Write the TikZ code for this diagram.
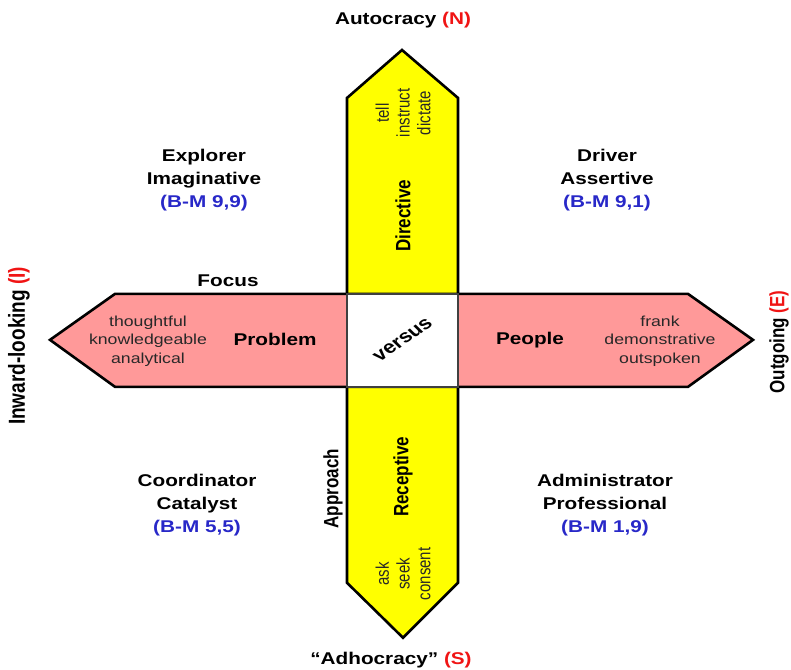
\documentclass[tikz,border=0pt]{standalone}
\usepackage{fontspec}
\setmainfont{Liberation Sans}
\definecolor{barYellow}{RGB}{255,255,0}
\definecolor{barPink}{RGB}{255,153,153}
\definecolor{axisRed}{RGB}{240,20,20}
\definecolor{bmBlue}{RGB}{40,40,200}
\definecolor{softInk}{RGB}{40,40,40}
\begin{document}
\begin{tikzpicture}[x=0.82pt, y=-1pt, xscale=1.22, transform shape,
  bar/.style={line width=2.6pt, line join=miter, draw=black},
  heading/.style={font=\bfseries\fontsize{17}{23}\selectfont, align=center, inner sep=0pt},
  traits/.style={font=\fontsize{14.5}{18.5}\selectfont, align=center, inner sep=0pt, text=softInk},
  verbs/.style={font=\fontsize{15}{17}\selectfont, align=center, inner sep=0pt, text=softInk, rotate=90},
  upright/.style={rotate=90}]
\useasboundingbox (0,0) rectangle (791,670);

% vertical bar: Directive / Receptive
\path[bar, fill=barYellow] (347,98) -- (402,50) -- (458,98) -- (458,583)
  -- (403,638) -- (347,583) -- cycle;
% horizontal bar: Problem / People
\path[bar, fill=barPink] (50,340) -- (115,294) -- (688,294) -- (753,340)
  -- (688,387) -- (115,387) -- cycle;
% centre square
\path[fill=white, draw=black!75, line width=1.5pt] (347,294) rectangle (458,387);

% compass labels
\node[heading] (north) at (403,20) {Autocracy \textcolor{axisRed}{(N)}};
\node[heading] (south) at (391,660) {“Adhocracy” \textcolor{axisRed}{(S)}};
\node[heading, upright, font=\bfseries\fontsize{19}{23}\selectfont] (west) at (19,346)
  {Inward-looking \textcolor{axisRed}{(I)}};
\node[heading, upright] (east) at (779,342) {Outgoing \textcolor{axisRed}{(E)}};

% quadrant styles
\node[heading] (explorer) at (204,180) {Explorer\\Imaginative\\\textcolor{bmBlue}{(B-M 9,9)}};
\node[heading] (driver) at (607,180) {Driver\\Assertive\\\textcolor{bmBlue}{(B-M 9,1)}};
\node[heading] (coordinator) at (197,505) {Coordinator\\Catalyst\\\textcolor{bmBlue}{(B-M 5,5)}};
\node[heading] (administrator) at (605,505) {Administrator\\Professional\\\textcolor{bmBlue}{(B-M 1,9)}};

% axis names
\node[heading] (focus) at (228,281) {Focus};
\node[heading, upright] (approach) at (333,489) {Approach};

% bar contents
\node[heading, upright] (directive) at (403,216) {Directive};
\node[heading, upright] (receptive) at (403,477) {Receptive};
\node[verbs] (tell) at (403,113) {tell\\instruct\\dictate};
\node[verbs] (ask) at (403,574) {ask\\seek\\consent};
\node[heading] (problem) at (275,340) {Problem};
\node[traits] (inward) at (148,341) {thoughtful\\knowledgeable\\analytical};
\node[heading] (people) at (530,340) {People};
\node[traits] (outward) at (660,341) {frank\\demonstrative\\outspoken};
\node[heading, rotate=40, font=\bfseries\fontsize{18}{23}\selectfont] (versus) at (403,340) {versus};
\end{tikzpicture}
\end{document}
